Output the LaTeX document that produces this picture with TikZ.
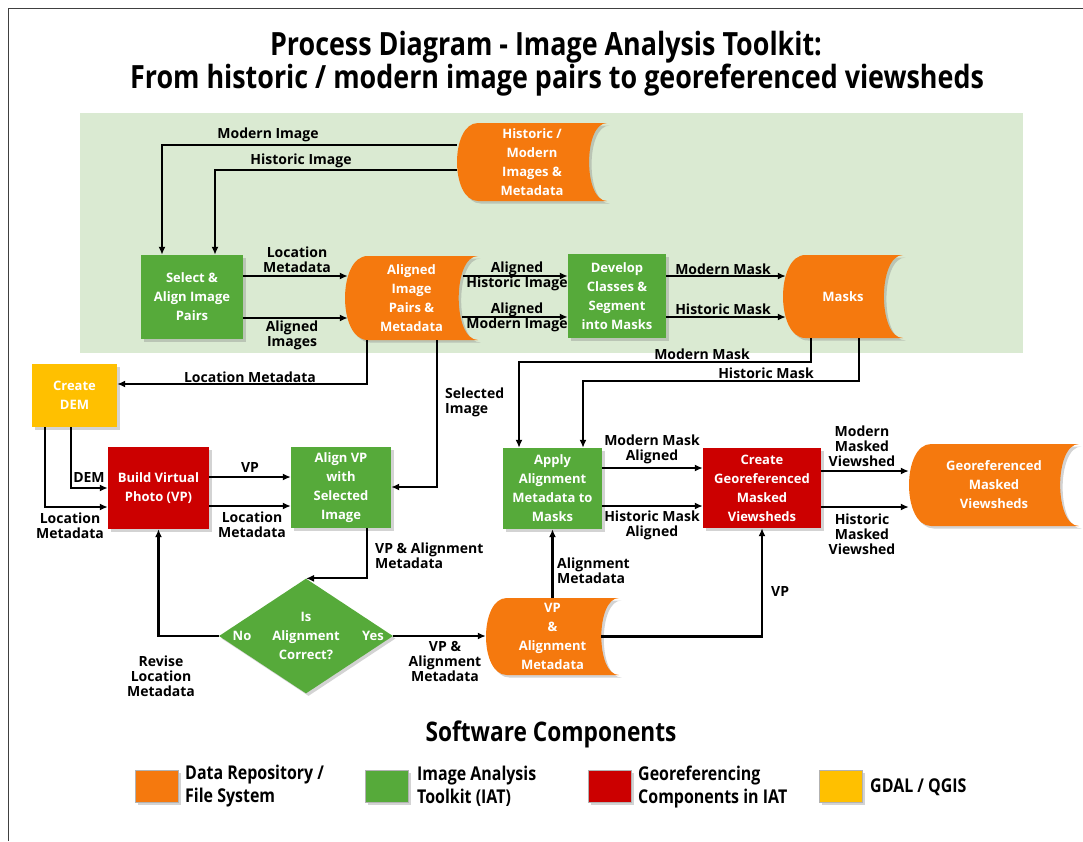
\documentclass[tikz,border=0pt]{standalone}
\usepackage{fontspec}
\setmainfont{Open Sans}
\newfontfamily\narrowfont{Open Sans}[FakeStretch=0.84]
\usetikzlibrary{arrows.meta,calc,shadows,shapes.geometric}

\definecolor{storeorange}{RGB}{245,121,14}
\definecolor{iatgreen}{RGB}{86,170,58}
\definecolor{geored}{RGB}{204,0,0}
\definecolor{gdalyellow}{RGB}{255,192,0}
\definecolor{panelgreen}{RGB}{218,234,210}

\tikzstyle{boxshadow}=[drop shadow={shadow xshift=2.5pt, shadow yshift=-2.5pt, opacity=0.35}]
\tikzstyle{box}=[rectangle, boxshadow, text=white, align=center, inner sep=0pt, font=\bfseries\fontsize{13}{19}\selectfont]
\tikzstyle{boxgreen}=[box, fill=iatgreen]
\tikzstyle{boxred}=[box, fill=geored]
\tikzstyle{boxyellow}=[box, fill=gdalyellow]
\tikzstyle{decision}=[diamond, boxshadow, fill=iatgreen, text=white, align=center, inner sep=0pt, font=\bfseries\fontsize{13}{19}\selectfont, minimum width=174pt, minimum height=106pt]
\tikzstyle{storetext}=[rectangle, text=white, align=center, inner sep=0pt, font=\bfseries\fontsize{13}{19}\selectfont]
\tikzstyle{lbl}=[align=center, inner sep=0pt, font=\bfseries\fontsize{14}{15}\selectfont]
\tikzstyle{arr}=[line width=2.2pt, -{Latex[length=8pt,width=7pt]}]
\tikzstyle{legendbox}=[rectangle, boxshadow, minimum width=43pt, minimum height=32pt, draw=black!30, line width=0.6pt]
\tikzstyle{legendtext}=[anchor=west, align=left, inner sep=0pt, font=\narrowfont\bfseries\fontsize{19}{23}\selectfont]

% data store: name, left, top, right, bottom, text
\newcommand{\datastore}[6]{%
  \pgfmathsetmacro{\sd}{0.27*(#5-#3)}%
  \pgfmathsetmacro{\sc}{0.23*(#5-#3)}%
  \fill[storeorange, boxshadow] ({#2+\sd},#3) -- (#4,#3)
    .. controls ({#4-1.333*\sc},#3) and ({#4-1.333*\sc},#5) .. (#4,#5)
    -- ({#2+\sd},#5)
    .. controls ({#2-0.333*\sd},#5) and ({#2-0.333*\sd},#3) .. ({#2+\sd},#3) -- cycle;
  \node[storetext, minimum width={#4-#2}, minimum height={#5-#3}] (#1) at ({(#2+#4)/2},{(#3+#5)/2}) {#6};
}

\begin{document}
\begin{tikzpicture}[x=1pt, y=-1pt]
  \useasboundingbox (0,0) rectangle (1083,841);
  \draw[black!75, line width=1pt] (8,841) -- (8,8) -- (1083,8);
  \fill[panelgreen] (80,113) rectangle (1023,353);

  % title
  \node[font=\narrowfont\bfseries\fontsize{32}{36}\selectfont] (title1) at (546,47) {Process Diagram - Image Analysis Toolkit:};
  \node[font=\narrowfont\bfseries\fontsize{32}{36}\selectfont] (title2) at (557,80) {From historic / modern image pairs to georeferenced viewsheds};

  % stores and steps
  \datastore{hmstore}{457}{123}{607}{201}{Historic /\\Modern\\Images \&\\Metadata}
  \datastore{alstore}{345}{256}{478}{340}{Aligned\\Image\\Pairs \&\\Metadata}
  \datastore{masks}{783}{255}{903}{338}{Masks}
  \datastore{vpstore}{486}{598}{619}{675}{VP\\\&\\Alignment\\Metadata}
  \datastore{geostore}{909}{444}{1079}{526}{Georeferenced\\Masked\\Viewsheds}

  \node[boxgreen, minimum width=102pt, minimum height=84pt] (select) at (192,297) {Select \&\\Align Image\\Pairs};
  \node[boxgreen, minimum width=98pt, minimum height=84pt] (develop) at (617,296) {Develop\\Classes \&\\Segment\\into Masks};
  \node[boxyellow, minimum width=85pt, minimum height=63pt] (dem) at (74.5,395.5) {Create\\DEM};
  \node[boxred, minimum width=101pt, minimum height=82pt] (build) at (158.5,488) {Build Virtual\\Photo (VP)};
  \node[boxgreen, minimum width=100pt, minimum height=81pt] (alignvp) at (341,487.5) {Align VP\\with\\Selected\\Image};
  \node[decision] (dia) at (306,636) {Is\\Alignment\\Correct?};
  \node[lbl, text=white, font=\bfseries\fontsize{13}{15}\selectfont] (no) at (242,636) {No};
  \node[lbl, text=white, font=\bfseries\fontsize{13}{15}\selectfont] (yes) at (373,636) {Yes};
  \node[boxgreen, minimum width=99pt, minimum height=81pt] (apply) at (552.5,488.5) {Apply\\Alignment\\Metadata to\\Masks};
  \node[boxred, minimum width=118pt, minimum height=80pt] (creategeo) at (762,488) {Create\\Georeferenced\\Masked\\Viewsheds};

  % connectors
  \draw[arr] (hmstore.west |- 0,145) -| (select.north -| 162,0);
  \draw[arr] (hmstore.west |- 0,170) -| (select.north -| 215,0);
  \draw[arr] (select.east |- 0,276) -- ($(alstore.west |- 0,276)+(3,0)$);
  \draw[arr] (select.east |- 0,318) -- ($(alstore.west |- 0,318)+(3,0)$);
  \draw[arr] ($(alstore.east |- 0,276)+(-15,0)$) -- (develop.west |- 0,276);
  \draw[arr] ($(alstore.east |- 0,317)+(-16,0)$) -- (develop.west |- 0,317);
  \draw[arr] (develop.east |- 0,276) -- ($(masks.west |- 0,276)+(3,0)$);
  \draw[arr] (develop.east |- 0,317) -- ($(masks.west |- 0,317)+(3,0)$);
  \draw[arr] (alstore.south -| 367,0) |- (dem.east |- 0,384);
  \draw[arr] (alstore.south -| 437,0) |- (alignvp.east |- 0,487);
  \draw[arr] (masks.south -| 811,0) -- (811,362) -| (apply.north -| 519,0);
  \draw[arr] (masks.south -| 859,0) -- (859,381) -| (apply.north -| 583,0);
  \draw[arr] (dem.south -| 71,0) |- (build.west |- 0,488);
  \draw[arr] (dem.south -| 45,0) |- (build.west |- 0,507);
  \draw[arr] (build.east |- 0,477) -- (alignvp.west |- 0,477);
  \draw[arr] (build.east |- 0,506) -- (alignvp.west |- 0,506);
  \draw[arr] (alignvp.south -| 367,0) |- (dia.north);
  \draw[arr] (dia.east) -- (vpstore.west |- dia.east);
  \draw[arr] (dia.west) -| (build.south);
  \draw[arr] (vpstore.north) -- (apply.south);
  \draw[arr] ($(vpstore.east)+(-18,0)$) -| (creategeo.south);
  \draw[arr] (apply.east |- 0,468) -- (creategeo.west |- 0,468);
  \draw[arr] (apply.east |- 0,506) -- (creategeo.west |- 0,506);
  \draw[arr] (creategeo.east |- 0,471) -- (geostore.west |- 0,471);
  \draw[arr] (creategeo.east |- 0,507) -- (geostore.west |- 0,507);

  % connector labels
  \node[lbl] (lmodimg) at (268,135) {Modern Image};
  \node[lbl] (lhisimg) at (301,161) {Historic Image};
  \node[lbl] (llocmeta1) at (297,259.5) {Location\\Metadata};
  \node[lbl] (lalimgs) at (292,335) {Aligned\\Images};
  \node[lbl] (lalhis) at (517,276) {Aligned\\Historic Image};
  \node[lbl] (lalmod) at (517,317) {Aligned\\Modern Image};
  \node[lbl] (lmodmask1) at (723,269) {Modern Mask};
  \node[lbl] (lhismask1) at (723,309) {Historic Mask};
  \node[lbl] (llocmeta2) at (250,377) {Location Metadata};
  \node[lbl, anchor=west, align=left] (lselimg) at (445,402) {Selected\\Image};
  \node[lbl] (lmodmask2) at (702,354) {Modern Mask};
  \node[lbl] (lhismask2) at (766,373) {Historic Mask};
  \node[lbl] (ldem) at (89,477) {DEM};
  \node[lbl] (llocmeta3) at (70,525.5) {Location\\Metadata};
  \node[lbl] (lvp1) at (250,467) {VP};
  \node[lbl] (llocmeta4) at (252,525) {Location\\Metadata};
  \node[lbl, anchor=west, align=left] (lvpal1) at (375,555.5) {VP \& Alignment\\Metadata};
  \node[lbl] (lvpal2) at (445,661) {VP \&\\Alignment\\Metadata};
  \node[lbl] (lrevise) at (161,676) {Revise\\Location\\Metadata};
  \node[lbl, anchor=west, align=left] (lalmeta) at (557,570.5) {Alignment\\Metadata};
  \node[lbl, anchor=west] (lvp2) at (771,591) {VP};
  \node[lbl] (lmodal) at (652,449) {Modern Mask\\Aligned};
  \node[lbl] (lhisal) at (652,525.5) {Historic Mask\\Aligned};
  \node[lbl] (lmodview) at (862,446) {Modern\\Masked\\Viewshed};
  \node[lbl] (lhisview) at (862,534) {Historic\\Masked\\Viewshed};

  % legend
  \node[font=\narrowfont\bfseries\fontsize{27}{30}\selectfont] (legtitle) at (551,734) {Software Components};
  \node[legendbox, fill=storeorange] (keystore) at (156.5,786) {};
  \node[legendtext] (keystoretxt) at (185,786) {Data Repository /\\File System};
  \node[legendbox, fill=iatgreen] (keyiat) at (387,786) {};
  \node[legendtext] (keyiattxt) at (417,786) {Image Analysis\\Toolkit (IAT)};
  \node[legendbox, fill=geored] (keygeo) at (609.5,786) {};
  \node[legendtext] (keygeotxt) at (638,787) {Georeferencing\\Components in IAT};
  \node[legendbox, fill=gdalyellow] (keygdal) at (841,786) {};
  \node[legendtext] (keygdaltxt) at (870,787) {GDAL / QGIS};
\end{tikzpicture}
\end{document}
